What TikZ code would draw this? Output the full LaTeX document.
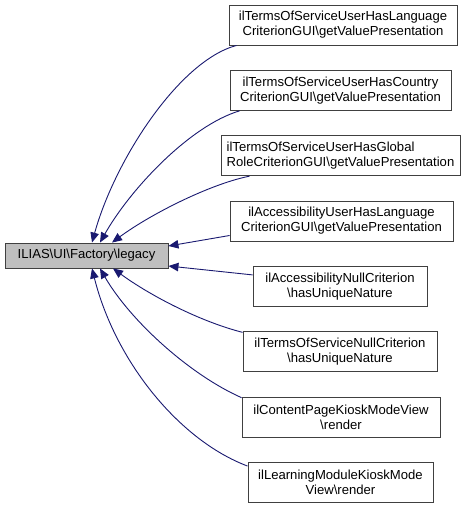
\documentclass[tikz,border=0pt]{standalone}
\usepackage{fontspec}
\setmainfont{Liberation Sans}
\usepackage{tikz}
\usetikzlibrary{arrows.meta}
\definecolor{edgeblue}{RGB}{25,25,112}
\newcommand{\bsl}{\textbackslash{}}

\tikzset{
  parentbox/.style={draw=black!75, fill=black!25, line width=0.9pt, minimum height=25, inner sep=2pt},
  childbox/.style={draw=black!75, fill=white, line width=0.9pt, minimum height=40, inner sep=2pt, align=center},
  callarrow/.style={draw=edgeblue, line width=0.9pt, -{Triangle[length=10pt,width=8.5pt]}}
}

\begin{document}
\begin{tikzpicture}[x=1pt,y=-1pt,font=\fontsize{13.1}{15}\selectfont]
\useasboundingbox (0,0) rectangle (472,509);

\node[parentbox, minimum width=163] (legacy) at (86.5,255.5) {ILIAS\bsl UI\bsl Factory\bsl legacy};

\node[childbox, minimum width=228] (tosLang) at (343,25) {ilTermsOfServiceUserHasLanguage\\CriterionGUI\bsl getValuePresentation};
\node[childbox, minimum width=221] (tosCountry) at (340.5,90.4) {ilTermsOfServiceUserHasCountry\\CriterionGUI\bsl getValuePresentation};
\node[childbox, minimum width=239, align=left] (tosRole) at (340.5,155.7) {ilTermsOfServiceUserHasGlobal\\RoleCriterionGUI\bsl getValuePresentation};
\node[childbox, minimum width=223] (accLang) at (341.5,221) {ilAccessibilityUserHasLanguage\\CriterionGUI\bsl getValuePresentation};
\node[childbox, minimum width=174] (accNull) at (340,286.4) {ilAccessibilityNullCriterion\\\bsl hasUniqueNature};
\node[childbox, minimum width=194] (tosNull) at (340,351.8) {ilTermsOfServiceNullCriterion\\\bsl hasUniqueNature};
\node[childbox, minimum width=198] (cpKiosk) at (341,417.1) {ilContentPageKioskModeView\\\bsl render};
\node[childbox, minimum width=185] (lmKiosk) at (340.5,482.5) {ilLearningModuleKioskMode\\View\bsl render};

% callers above
\draw[callarrow] ([xshift=8pt]tosLang.south west) .. controls +(-57,15) and +(23,-83) .. ([xshift=5.5pt]legacy.north);
\draw[callarrow] ([xshift=10pt]tosCountry.south west) .. controls +(-50,15) and +(30,-53) .. ([xshift=13.5pt]legacy.north);
\draw[callarrow] ([xshift=29pt]tosRole.south west) .. controls +(-40,8) and +(38,-28) .. ([xshift=25.5pt]legacy.north);

% callers at the side
\draw[callarrow] ([yshift=-14.5pt]accLang.west) -- ([yshift=9.5pt]legacy.east);
\draw[callarrow] ([yshift=11.5pt]accNull.west) -- ([yshift=-10.5pt]legacy.east);

% callers below
\draw[callarrow] ([yshift=-1pt]tosNull.north west) .. controls +(-43,-11) and +(37,27) .. ([xshift=26.5pt]legacy.south);
\draw[callarrow] ([yshift=-1pt]cpKiosk.north west) .. controls +(-52,-23) and +(30,52) .. ([xshift=13.5pt]legacy.south);
\draw[callarrow] ([yshift=-4pt]lmKiosk.north west) .. controls +(-69,-26) and +(23,92) .. ([xshift=5.5pt]legacy.south);
\end{tikzpicture}
\end{document}
